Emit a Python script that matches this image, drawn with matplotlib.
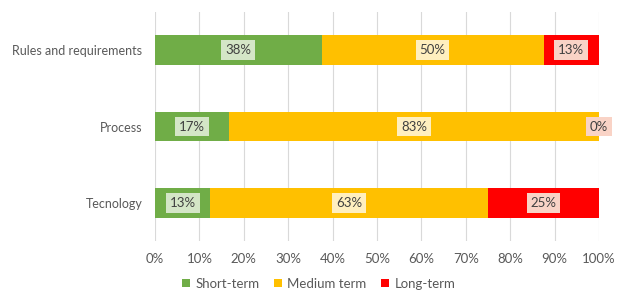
import matplotlib.pyplot as plt
import numpy as np

plt.rcParams['font.family'] = ['Lato', 'DejaVu Sans']

# Data (share of answers, %)
categories = ['Rules and requirements', 'Process', 'Tecnology']
short_term = [37.5, 16.7, 12.5]
medium_term = [50.0, 83.3, 62.5]
long_term = [12.5, 0.0, 25.0]

series = [('Short-term', short_term, '#70AD47', '#d4e6c7'),
          ('Medium term', medium_term, '#FFC000', '#ffefbf'),
          ('Long-term', long_term, '#FF0000', '#f9d3c6')]

fig = plt.figure(figsize=(6.19, 2.93), dpi=100)
ax = fig.add_axes([0.2504, 0.1775, 0.7173, 0.7815])

y = np.arange(len(categories))[::-1]
left = np.zeros(len(categories))
for name, vals, color, boxcolor in series:
	vals = np.array(vals)
	ax.barh(y, vals, left=left, height=0.39, color=color, label=name, zorder=2)
	for yi, l, v in zip(y, left, vals):
		ax.text(l + v / 2, yi, f'{int(v + 0.5)}%', ha='center', va='center',
		        fontsize=9.5, color='#404040', zorder=3,
		        bbox=dict(boxstyle='square,pad=0.3', fc=boxcolor, ec='none'))
	left += vals

ax.set_xlim(0, 100)
ax.set_ylim(-0.5, 2.5)
ax.set_xticks(np.arange(0, 101, 10))
ax.set_xticklabels([f'{t}%' for t in range(0, 101, 10)])
ax.set_yticks(y)
ax.set_yticklabels(categories)
ax.tick_params(axis='both', length=0, labelsize=9.5, colors='#595959')
ax.tick_params(axis='x', pad=9)
ax.tick_params(axis='y', pad=9, labelsize=9)
ax.grid(axis='x', color='#d9d9d9', linewidth=0.8, zorder=0)
ax.set_axisbelow(True)
for s in ax.spines.values():
	s.set_visible(False)

fig.legend(loc='lower center', bbox_to_anchor=(0.515, -0.03), ncol=3, frameon=False,
           fontsize=9.5, handlelength=0.6, handleheight=0.6, handletextpad=0.4,
           columnspacing=1.1, labelcolor='#595959')

fig.savefig('out.png', dpi=100)
